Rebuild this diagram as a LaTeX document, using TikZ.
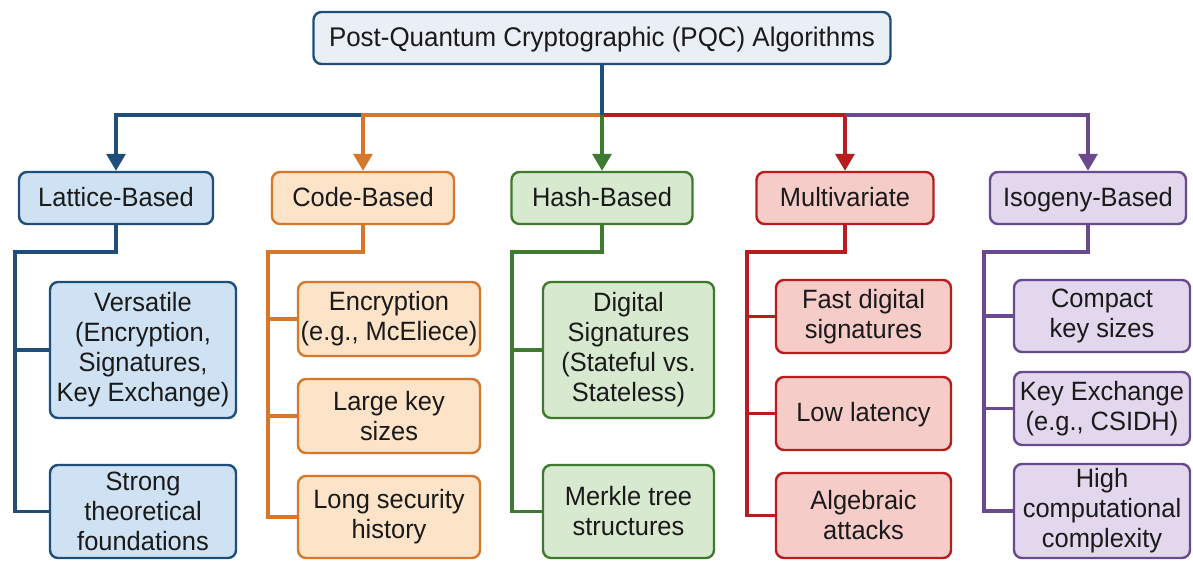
\documentclass[tikz,border=0pt]{standalone}
\usepackage{fontspec}
\setmainfont[FakeStretch=0.96]{Liberation Sans}
\usetikzlibrary{arrows.meta}
\definecolor{textc}{HTML}{1A1A1A}
\definecolor{titlef}{HTML}{E9EFF5}
\definecolor{bluel}{HTML}{1F4E7A}
\definecolor{bluef}{HTML}{CFE2F3}
\definecolor{orangel}{HTML}{D6772B}
\definecolor{orangef}{HTML}{FDE3C8}
\definecolor{greenl}{HTML}{3F7A2E}
\definecolor{greenf}{HTML}{D7EAD0}
\definecolor{redl}{HTML}{B81C1C}
\definecolor{redf}{HTML}{F6CCC9}
\definecolor{purplel}{HTML}{6A4A8E}
\definecolor{purplef}{HTML}{E2D7EC}
\begin{document}
\begin{tikzpicture}[x=1pt,y=-1pt,
  box/.style={draw, rounded corners=8pt, line width=2.4pt, align=center, inner sep=0pt,
    font=\fontsize{26.5}{30}\selectfont, text=textc},
  one/.style={text height=18pt, text depth=2pt},
  tbox/.style={box, one, draw=bluel, fill=titlef, font=\fontsize{27}{30}\selectfont},
  latb/.style={box, draw=bluel, fill=bluef},
  codb/.style={box, draw=orangel, fill=orangef},
  hasb/.style={box, draw=greenl, fill=greenf},
  mulb/.style={box, draw=redl, fill=redf},
  isob/.style={box, draw=purplel, fill=purplef},
  con/.style={line width=3.3pt},
  arr/.style={con, -{Triangle[width=19pt,length=17pt]}}]
\useasboundingbox (0,0) rectangle (1193,560);
\fill[white] (0,0) rectangle (1193,560);

% title
\node[tbox, minimum width=577pt, minimum height=52pt] (title) at (602,38) {Post-Quantum Cryptographic (PQC) Algorithms};

% categories
\node[latb, one, minimum width=194pt, minimum height=52pt] (lat) at (116,198) {Lattice-Based};
\node[codb, one, minimum width=182pt, minimum height=52pt] (cod) at (363,198) {Code-Based};
\node[hasb, one, minimum width=181pt, minimum height=52pt] (has) at (602,198) {Hash-Based};
\node[mulb, one, minimum width=177pt, minimum height=52pt] (mul) at (845,198) {Multivariate};
\node[isob, one, minimum width=196pt, minimum height=52pt] (iso) at (1088,198) {Isogeny-Based};

% lattice children
\node[latb, minimum width=186pt, minimum height=136pt] (lv) at (143,350) {Versatile\\(Encryption,\\Signatures,\\Key Exchange)};
\node[latb, minimum width=186pt, minimum height=93pt] (ls) at (143,511.5) {Strong\\theoretical\\foundations};

% code children
\node[codb, minimum width=182pt, minimum height=74pt] (ce) at (389,319) {Encryption\\(e.g., McEliece)};
\node[codb, minimum width=182pt, minimum height=74pt] (cl) at (389,416) {Large key\\sizes};
\node[codb, minimum width=182pt, minimum height=82pt] (ch) at (389,517) {Long security\\history};

% hash children
\node[hasb, minimum width=171pt, minimum height=136pt] (hd) at (628.5,350) {Digital\\Signatures\\(Stateful vs.\\Stateless)};
\node[hasb, minimum width=171pt, minimum height=93pt] (hm) at (628.5,511.5) {Merkle tree\\structures};

% multivariate children
\node[mulb, minimum width=175pt, minimum height=73pt] (mf) at (863.5,316.5) {Fast digital\\signatures};
\node[mulb, one, minimum width=175pt, minimum height=73pt] (ml) at (863.5,413.5) {Low latency};
\node[mulb, minimum width=175pt, minimum height=85pt] (ma) at (863.5,515.5) {Algebraic\\attacks};

% isogeny children
\node[isob, minimum width=176pt, minimum height=72pt] (ic) at (1102,316) {Compact\\key sizes};
\node[isob, minimum width=176pt, minimum height=73pt] (ik) at (1102,408.5) {Key Exchange\\(e.g., CSIDH)};
\node[isob, minimum width=176pt, minimum height=94pt] (ih) at (1102,511) {High\\computational\\complexity};

% top connectors
\coordinate (jh) at (602,115);
\coordinate (jc) at (363,115);
\coordinate (jm) at (845,115);
\draw[arr, bluel] (jc) -| (lat.north);
\draw[arr, orangel] (jh) -| (cod.north);
\draw[arr, redl] (jh) -| (mul.north);
\draw[arr, purplel] (jm) -| (iso.north);
\draw[arr, greenl] (jh) -- (has.north);
\draw[con, bluel] (title.south) -- (jh);

% branch spines
\coordinate (lt) at (15,252);
\coordinate (ct) at (268,252);
\coordinate (ht) at (512,252);
\coordinate (mt) at (747,252);
\coordinate (it) at (984,252);

\draw[con, bluel] (lat.south) |- (lt) -- (lt |- ls.west) -- (ls.west);
\draw[con, bluel] (lt |- lv.west) -- (lv.west);

\draw[con, orangel] (cod.south) |- (ct) -- (ct |- ch.west) -- (ch.west);
\draw[con, orangel] (ct |- ce.west) -- (ce.west);
\draw[con, orangel] (ct |- cl.west) -- (cl.west);

\draw[con, greenl] (has.south) |- (ht) -- (ht |- hm.west) -- (hm.west);
\draw[con, greenl] (ht |- hd.west) -- (hd.west);

\draw[con, redl] (mul.south) |- (mt) -- (mt |- ma.west) -- (ma.west);
\draw[con, redl] (mt |- mf.west) -- (mf.west);
\draw[con, redl] (mt |- ml.west) -- (ml.west);

\draw[con, purplel] (iso.south) |- (it) -- (it |- ih.west) -- (ih.west);
\draw[con, purplel] (it |- ic.west) -- (ic.west);
\draw[con, purplel] (it |- ik.west) -- (ik.west);
\end{tikzpicture}
\end{document}
